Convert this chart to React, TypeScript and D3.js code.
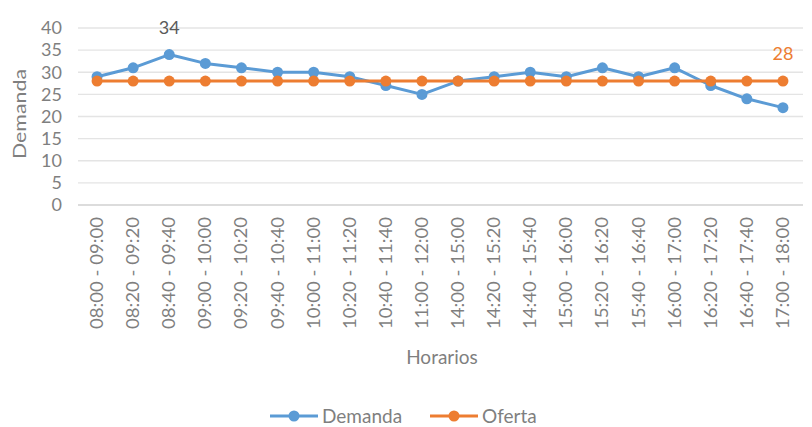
import React from "react";
import * as d3 from "d3";

const categories = [
  "08:00 - 09:00", "08:20 - 09:20", "08:40 - 09:40", "09:00 - 10:00", "09:20 - 10:20",
  "09:40 - 10:40", "10:00 - 11:00", "10:20 - 11:20", "10:40 - 11:40", "11:00 - 12:00",
  "14:00 - 15:00", "14:20 - 15:20", "14:40 - 15:40", "15:00 - 16:00", "15:20 - 16:20",
  "15:40 - 16:40", "16:00 - 17:00", "16:20 - 17:20", "16:40 - 17:40", "17:00 - 18:00",
];
const demanda = [29, 31, 34, 32, 31, 30, 30, 29, 27, 25, 28, 29, 30, 29, 31, 29, 31, 27, 24, 22];
const oferta = [28, 28, 28, 28, 28, 28, 28, 28, 28, 28, 28, 28, 28, 28, 28, 28, 28, 28, 28, 28];
const yTicks = [0, 5, 10, 15, 20, 25, 30, 35, 40];

const BLUE = "#5B9BD5";
const ORANGE = "#ED7D31";
const TEXT = "#7F7F7F";
const FONT = "Lato, 'Open Sans', sans-serif";

export default function App() {
  const W = 812, H = 427;
  const x = d3.scaleBand<string>().domain(categories).range([79, 801]);
  const y = d3.scaleLinear().domain([0, 40]).range([205, 28]);
  const cx = (c: string) => (x(c) as number) + x.bandwidth() / 2;
  const line = d3.line<number>().x((_, i) => cx(categories[i])).y((v) => y(v));

  const series = [
    { name: "Demanda", values: demanda, color: BLUE },
    { name: "Oferta", values: oferta, color: ORANGE },
  ];

  return (
    <svg width={W} height={H} style={{ position: "absolute", left: 0, top: 0, background: "#fff" }} fontFamily={FONT}>
      {yTicks.map((t) => (
        <g key={t}>
          <line x1={78} x2={803} y1={y(t)} y2={y(t)} stroke={t === 0 ? "#D0D0D0" : "#E4E4E4"} strokeWidth={1.3} />
          <text x={62} y={y(t)} dy="0.35em" textAnchor="end" fontSize={18} fill={TEXT}>{t}</text>
        </g>
      ))}
      <text transform={`translate(26,114) rotate(-90)`} textAnchor="middle" fontSize={18} fill={TEXT}
        textLength={90} lengthAdjust="spacingAndGlyphs">Demanda</text>
      {categories.map((c) => (
        <text key={c} transform={`translate(${cx(c) + 6},217) rotate(-90)`} textAnchor="end" fontSize={18} fill={TEXT}
          textLength={112} lengthAdjust="spacingAndGlyphs">{c}</text>
      ))}
      <text x={442} y={364} textAnchor="middle" fontSize={19} fill={TEXT}>Horarios</text>

      {series.map((s) => (
        <g key={s.name}>
          <path d={line(s.values) as string} fill="none" stroke={s.color} strokeWidth={3} strokeLinejoin="round" />
          {s.values.map((v, i) => (
            <circle key={i} cx={cx(categories[i])} cy={y(v)} r={5.5} fill={s.color} />
          ))}
        </g>
      ))}

      <text x={cx(categories[2])} y={y(demanda[2]) - 21} textAnchor="middle" fontSize={18} fill="#595959">{demanda[2]}</text>
      <text x={cx(categories[19])} y={y(oferta[19]) - 21} textAnchor="middle" fontSize={18} fill={ORANGE}>{oferta[19]}</text>

      {series.map((s, i) => {
        const lx = i === 0 ? 270 : 430;
        return (
          <g key={s.name}>
            <line x1={lx} x2={lx + 48} y1={416} y2={416} stroke={s.color} strokeWidth={3} />
            <circle cx={lx + 24} cy={416} r={5.5} fill={s.color} />
            <text x={lx + 52} y={416} dy="0.35em" fontSize={19} fill={TEXT}>{s.name}</text>
          </g>
        );
      })}
    </svg>
  );
}
